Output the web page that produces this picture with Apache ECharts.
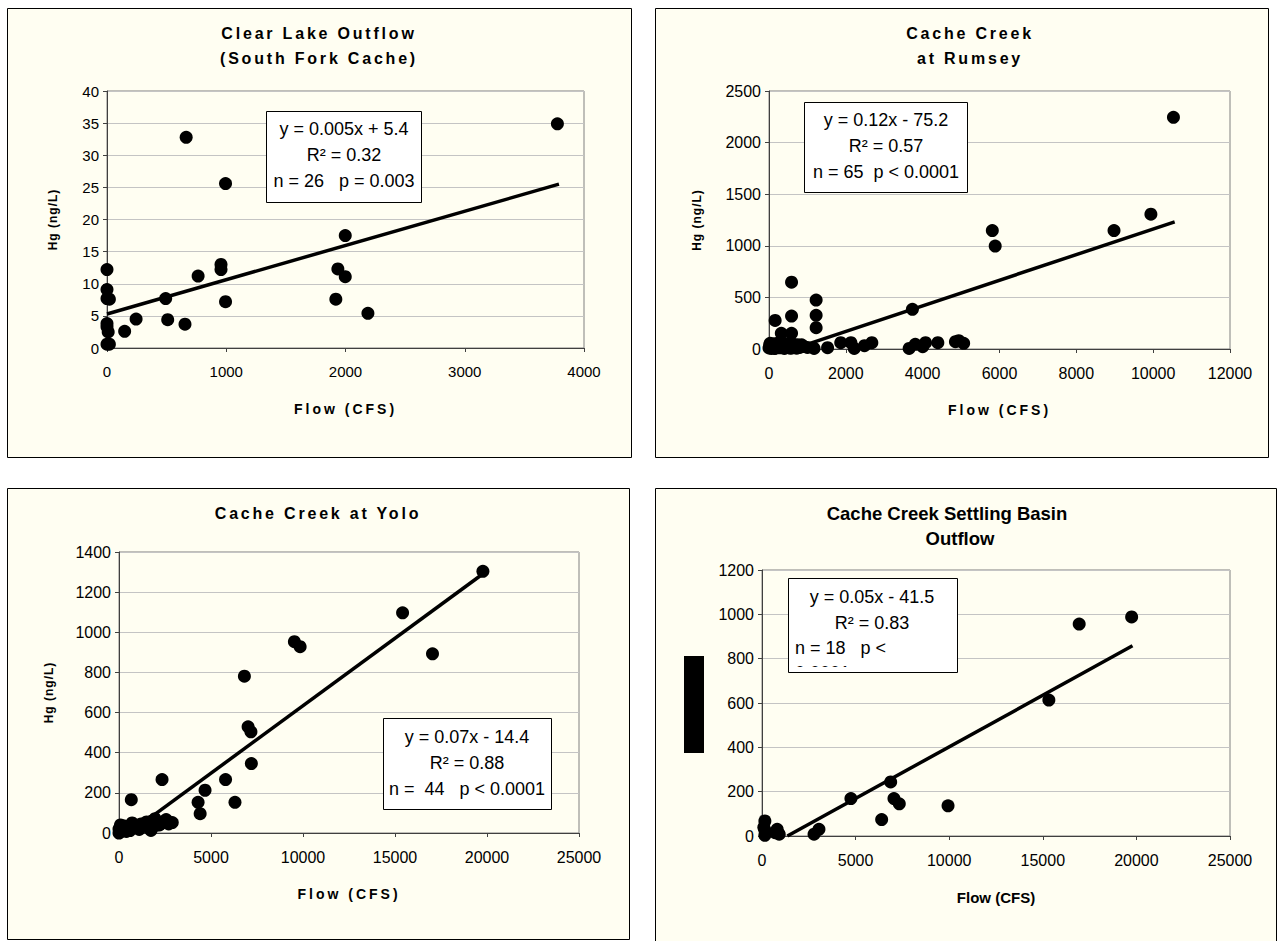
<!DOCTYPE html>
<html><head><meta charset="utf-8">
<script src="https://cdn.jsdelivr.net/npm/echarts@6/dist/echarts.min.js"></script>
<style>html,body{margin:0;padding:0;background:#fff;}#chart{width:1278px;height:941px;}</style>
</head><body><div id="chart"></div>
<script>
// ---------- DATA ----------
// Panel 1: Clear Lake Outflow (South Fork Cache)
const clearFlow = [0, 0, 0, 20, 0, 10, 0, 20, 148, 244, 492, 509, 654, 664, 764, 956, 956, 994, 994, 1919, 1936, 1998, 1998, 2188, 3777, 0];
const clearHg   = [12.2, 9.1, 7.7, 7.6, 3.8, 2.5, 0.6, 0.6, 2.6, 4.5, 7.7, 4.4, 3.7, 32.8, 11.2, 13.0, 12.2, 25.6, 7.2, 7.6, 12.3, 17.5, 11.1, 5.4, 34.9, 3.3];
const clearTrend = [[0, 5.3], [3790, 25.5]];
const clearStats = ['y = 0.005x + 5.4', 'R² = 0.32', 'n = 26   p = 0.003'];

// Panel 2: Cache Creek at Rumsey
const rumseyFlow = [10528, 9941, 8981, 5813, 5888, 587, 1227, 587, 1227, 1227, 160, 320, 587, 3733,
  1173, 1525, 1867, 2133, 2219, 2485, 2677, 3648, 3808, 4075, 4395, 4853, 4939, 5067, 4000,
  0, 20, 40, 60, 80, 100, 130, 160, 200, 240, 280, 320, 360, 400, 440, 480, 520, 560, 600, 640, 680, 720, 760, 800, 850, 900,
  30, 70, 150, 250, 350, 450, 550, 650, 750, 1000];
const rumseyHg = [2245, 1306, 1148, 1148, 997, 648, 474, 319, 326, 206, 277, 152, 152, 384,
  6, 13, 61, 61, 6, 32, 61, 6, 45, 61, 61, 71, 81, 55, 22,
  10, 40, 20, 5, 35, 15, 50, 8, 30, 45, 12, 25, 55, 5, 40, 18, 30, 60, 10, 45, 22, 8, 35, 15, 40, 25,
  55, 30, 5, 60, 20, 50, 8, 30, 40, 15];
const rumseyTrend = [[1067, 55], [10560, 1232]];
const rumseyStats = ['y = 0.12x - 75.2', 'R² = 0.57', 'n = 65  p < 0.0001'];

// Panel 3: Cache Creek at Yolo
const yoloFlow = [19777, 15412, 17038, 9532, 9844, 6815, 7016, 7171, 7194, 5791, 6303, 4677, 4298, 4410, 2339, 668, 2561, 2895, 1960, 1737, 2004, 800, 713,
  0, 50, 100, 150, 200, 0, 80, 250, 300, 400, 500, 1000, 1200, 1500, 1650, 1800, 2200, 2400, 2700, 1100, 600];
const yoloHg = [1304, 1097, 893, 953, 928, 781, 529, 504, 346, 266, 153, 213, 153, 96, 266, 166, 67, 52, 71, 13, 38, 30, 50,
  20, 5, 30, 10, 25, 0, 40, 15, 35, 8, 20, 25, 45, 55, 30, 60, 40, 55, 45, 18, 12];
const yoloTrend = [[891, 22], [19822, 1294]];
const yoloStats = ['y = 0.07x - 14.4', 'R² = 0.88', 'n =  44   p < 0.0001'];

// Panel 4: Cache Creek Settling Basin Outflow
const basinFlow = [19746, 16944, 15324, 6874, 7049, 7334, 9939, 4750, 6392, 2780, 3043, 153, 153, 153, 810, 920, 100, 700];
const basinHg   = [988, 956, 613, 244, 169, 145, 136, 169, 74, 8, 30, 68, 26, 3, 30, 8, 40, 15];
const basinTrend = [[1357, 0], [19790, 858]];
const basinStats = ['y = 0.05x - 41.5', 'R² = 0.83', 'n = 18   p <', '0.0001'];

// Axis ticks [min, max, interval]
const xTicks1 = [0, 4000, 1000], yTicks1 = [0, 40, 5];
const xTicks2 = [0, 12000, 2000], yTicks2 = [0, 2500, 500];
const xTicks3 = [0, 25000, 5000], yTicks3 = [0, 1400, 200];
const xTicks4 = [0, 25000, 5000], yTicks4 = [0, 1200, 200];

const titles = [['Clear Lake Outflow', '(South Fork Cache)'], ['Cache Creek', 'at Rumsey'], ['Cache Creek at Yolo'], ['Cache Creek Settling Basin', 'Outflow']];
const xName = 'Flow (CFS)';
const yName = 'Hg (ng/L)';

// ---------- CHART ----------
const FONT = '"Liberation Sans", Arial, Helvetica, sans-serif';
const BG = '#FFFEF2';
const zip = (a, b) => a.map((v, i) => [v, b[i]]);
const plain = v => String(v);

const grids = [
  {left: 107, top: 91, width: 477, height: 257},
  {left: 769, top: 91, width: 461, height: 258},
  {left: 119, top: 552, width: 460, height: 281},
  {left: 762, top: 570, width: 468, height: 266}
].map(g => Object.assign(g, {show: true, borderColor: '#808080', borderWidth: 1, backgroundColor: 'transparent', containLabel: false}));

function xAx(i, t, gap, nameFont, fs) {
  return {
    type: 'value', gridIndex: i, min: t[0], max: t[1], interval: t[2],
    name: xName, nameLocation: 'middle', nameGap: gap,
    nameTextStyle: Object.assign({fontFamily: FONT, fontWeight: 'bold', color: '#000'}, nameFont),
    axisLine: {show: true, onZero: false, lineStyle: {color: '#404040', width: 1}},
    axisTick: {show: true, inside: false, length: 4, lineStyle: {color: '#404040'}},
    axisLabel: {fontFamily: FONT, fontSize: fs, color: '#000', margin: 16, formatter: plain},
    splitLine: {show: false}
  };
}
function yAx(i, t, gap, showName, fs) {
  return {
    type: 'value', gridIndex: i, min: t[0], max: t[1], interval: t[2],
    name: showName ? yName : '', nameLocation: 'middle', nameGap: gap, nameRotate: 90,
    nameTextStyle: {fontFamily: FONT, fontWeight: 'bold', fontSize: 12, color: '#000'},
    axisLine: {show: true, onZero: false, lineStyle: {color: '#404040', width: 1}},
    axisTick: {show: true, inside: false, length: 4, lineStyle: {color: '#404040'}},
    axisLabel: {fontFamily: FONT, fontSize: fs, color: '#000', margin: 8, formatter: plain},
    splitLine: {show: true, lineStyle: {color: '#C4C4C4', width: 1}}
  };
}

const sets = [[clearFlow, clearHg, clearTrend], [rumseyFlow, rumseyHg, rumseyTrend], [yoloFlow, yoloHg, yoloTrend], [basinFlow, basinHg, basinTrend]];
const series = [];
sets.forEach((s, i) => {
  series.push({type: 'scatter', xAxisIndex: i, yAxisIndex: i, data: zip(s[0], s[1]), symbol: 'circle', symbolSize: 13, clip: false,
    itemStyle: {color: '#000', opacity: 1}, emphasis: {disabled: true}, z: 3});
  series.push({type: 'line', xAxisIndex: i, yAxisIndex: i, data: s[2], showSymbol: false, symbol: 'none', lineStyle: {color: '#000', width: 3.5}, z: 4});
});

function panelRect(x, y, w, h) {
  return {type: 'rect', z: -10, shape: {x: x, y: y, width: w, height: h}, style: {fill: BG, stroke: '#000', lineWidth: 1}, silent: true};
}
function txt(x, y, text, font, align, z) {
  return {type: 'text', z: z || 60, x: x, y: y, silent: true,
    style: {text: text, font: font, fill: '#000', textAlign: align || 'center', textVerticalAlign: 'middle'}};
}
function statBox(x, y, w, h, lines, cx, cy) {
  return [
    {type: 'rect', z: 50, shape: {x: x, y: y, width: w, height: h}, style: {fill: '#fff', stroke: '#000', lineWidth: 1}, silent: true},
    {type: 'text', z: 51, x: cx, y: cy, silent: true, style: {text: lines.join('\n'), font: '18px ' + FONT, lineHeight: 26, fill: '#000', textAlign: 'center', textVerticalAlign: 'middle'}}
  ];
}
const TF = 'bold 16px ' + FONT;
const F18 = '18px ' + FONT;
const graphic = [
  panelRect(7.5, 8.5, 624, 449),
  panelRect(655.5, 8.5, 613, 449),
  panelRect(7.5, 488.5, 622, 451),
  panelRect(655.5, 488.5, 621, 470),
  txt(319, 33, titles[0][0], TF), txt(319, 58, titles[0][1], TF),
  txt(970, 33, titles[1][0], TF), txt(970, 58, titles[1][1], TF),
  txt(318, 513, titles[2][0], TF),
  txt(947, 513, titles[3][0], 'bold 18.5px ' + FONT), txt(960, 538, titles[3][1], 'bold 18.5px ' + FONT),
  ...statBox(266.5, 111.5, 155, 91, clearStats, 344, 155),
  ...statBox(804.5, 102.5, 163, 90, rumseyStats, 886, 146),
  ...statBox(383.5, 718.5, 168, 91, yoloStats, 467, 763),
  {type: 'rect', z: 50, shape: {x: 788.5, y: 578.5, width: 169, height: 94}, style: {fill: '#fff', stroke: null}, silent: true},
  txt(872, 597, basinStats[0], F18, 'center', 51),
  txt(872, 623, basinStats[1], F18, 'center', 51),
  txt(795, 648, basinStats[2], F18, 'left', 51),
  txt(795, 673, basinStats[3], F18, 'left', 51),
  {type: 'rect', z: 70, shape: {x: 789, y: 667, width: 168, height: 6}, style: {fill: '#fff', stroke: null}, silent: true},
  {type: 'rect', z: 70, shape: {x: 789, y: 673, width: 168, height: 16}, style: {fill: BG, stroke: null}, silent: true},
  {type: 'rect', z: 71, shape: {x: 788.5, y: 578.5, width: 169, height: 94}, style: {fill: 'none', stroke: '#000', lineWidth: 1}, silent: true},
  {type: 'rect', z: 60, shape: {x: 684, y: 656, width: 20, height: 97}, style: {fill: '#000'}, silent: true}
];

const chart = echarts.init(document.getElementById('chart'), null, {renderer: 'svg', width: 1278, height: 941});
chart.setOption({
  animation: false,
  backgroundColor: '#fff',
  grid: grids,
  xAxis: [xAx(0, xTicks1, 54, {fontSize: 14}, 15), xAx(1, xTicks2, 54, {fontSize: 14}, 16), xAx(2, xTicks3, 54, {fontSize: 14}, 16), xAx(3, xTicks4, 54, {fontSize: 15}, 16)],
  yAxis: [yAx(0, yTicks1, 48, true, 15), yAx(1, yTicks2, 66, true, 16), yAx(2, yTicks3, 64, true, 16), yAx(3, yTicks4, 60, false, 16)],
  series: series,
  graphic: graphic
});

// Excel-style letter spacing for the titles/axis names of the first three panels
const spacing = {};
titles.slice(0, 3).forEach(t => t.forEach(s => spacing[s] = 2.8));
function applySpacing() {
  document.querySelectorAll('#chart svg text').forEach(t => {
    const s = t.textContent;
    if (spacing[s] != null) t.style.letterSpacing = spacing[s] + 'px';
    else if (s === yName) t.style.letterSpacing = '1px';
    else if (s === xName) {
      const b = t.getBoundingClientRect();
      const lastPanel = b.left > 640 && b.top > 470;
      t.style.letterSpacing = lastPanel ? '0px' : '3px';
    }
  });
}
applySpacing();
chart.on('finished', applySpacing);
</script></body></html>
